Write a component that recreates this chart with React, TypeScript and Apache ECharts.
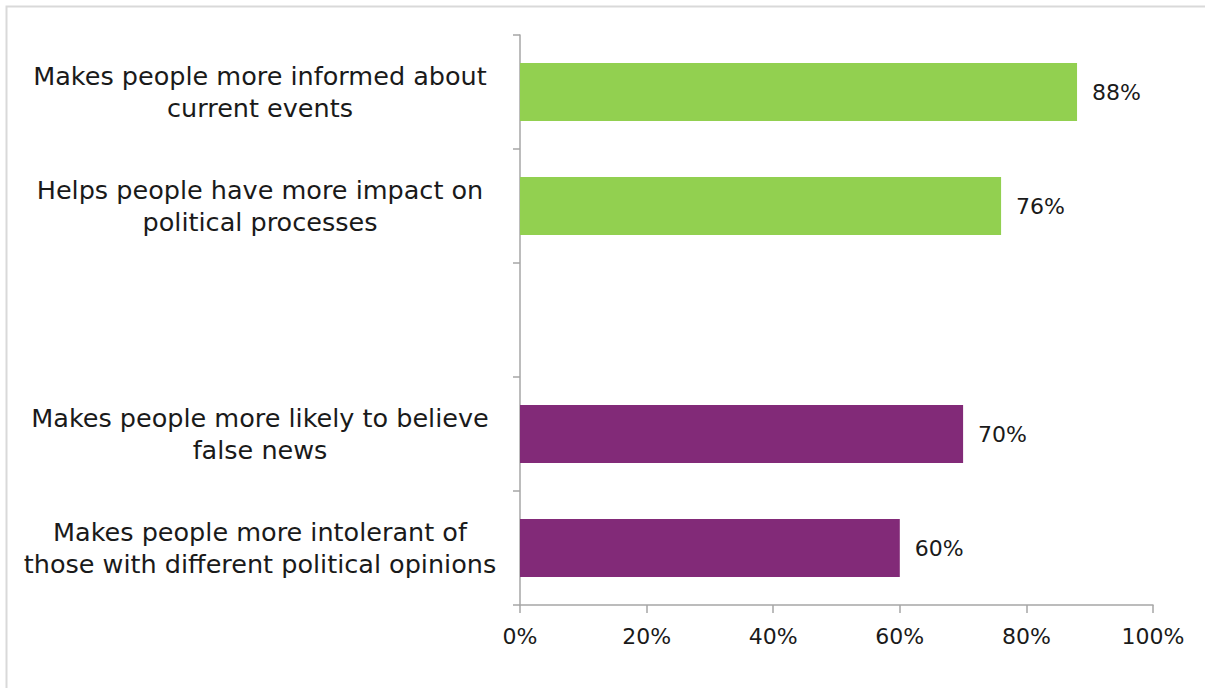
import React, { useEffect, useRef } from "react";
import * as echarts from "echarts";

const categories = [
  "Makes people more informed about\ncurrent events",
  "Helps people have more impact on\npolitical processes",
  "",
  "Makes people more likely to believe\nfalse news",
  "Makes people more intolerant of\nthose with different political opinions",
];
const values: (number | null)[] = [88, 76, null, 70, 60];
const groups: (string | null)[] = ["positive", "positive", null, "negative", "negative"];
const xTicks = [0, 20, 40, 60, 80, 100];

const groupColors: Record<string, string> = {
  positive: "#92D050",
  negative: "#822A78",
};

const FONT = "'DejaVu Sans', sans-serif";

export default function App() {
  const ref = useRef<HTMLDivElement>(null);
  useEffect(() => {
    document.body.style.margin = "0";
    if (!ref.current) return;
    const chart = echarts.init(ref.current, undefined, { renderer: "svg" });
    chart.setOption({
      animation: false,
      backgroundColor: "#ffffff",
      graphic: [
        {
          type: "rect",
          shape: { x: 6.5, y: 6.5, width: 1260, height: 760 },
          style: { fill: "none", stroke: "#d9d9d9", lineWidth: 2 },
          silent: true,
        },
      ],
      grid: { left: 520, right: 52, top: 35, bottom: 83, containLabel: false },
      xAxis: {
        type: "value",
        min: xTicks[0],
        max: xTicks[xTicks.length - 1],
        interval: 20,
        axisLine: { show: true, lineStyle: { color: "#a6a6a6", width: 1.5 } },
        axisTick: { show: true, length: 8, lineStyle: { color: "#a6a6a6", width: 1.5 } },
        splitLine: { show: false },
        axisLabel: {
          formatter: "{value}%",
          fontFamily: FONT,
          fontSize: 22,
          color: "#1a1a1a",
          margin: 20,
        },
      },
      yAxis: {
        type: "category",
        inverse: true,
        data: categories,
        axisLine: { show: true, lineStyle: { color: "#a6a6a6", width: 1.5 } },
        axisTick: { show: true, length: 7, lineStyle: { color: "#a6a6a6", width: 1.5 } },
        axisLabel: {
          margin: 25,
          formatter: (v: string) =>
            v
              .split("\n")
              .map((l) => `{a|${l}}`)
              .join("\n"),
          rich: {
            a: {
              width: 470,
              align: "center",
              fontFamily: FONT,
              fontSize: 25.5,
              lineHeight: 32,
              color: "#1a1a1a",
            },
          },
        },
      },
      series: [
        {
          type: "bar",
          barWidth: 58,
          data: values.map((v, i) => ({
            value: v,
            itemStyle: { color: groups[i] ? groupColors[groups[i] as string] : "transparent" },
          })),
          label: {
            show: true,
            position: "right",
            distance: 15,
            formatter: (p: any) => (p.value == null ? "" : `${p.value}%`),
            fontFamily: FONT,
            fontSize: 22,
            color: "#1a1a1a",
          },
        },
      ],
    });
    return () => chart.dispose();
  }, []);
  return <div ref={ref} style={{ width: 1205, height: 688 }} />;
}
